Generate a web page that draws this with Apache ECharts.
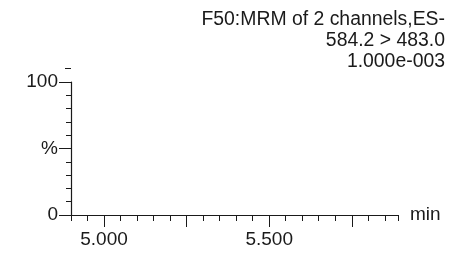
<!DOCTYPE html>
<html>
<head>
<meta charset="utf-8">
<script src="https://cdn.jsdelivr.net/npm/echarts@6/dist/echarts.min.js"></script>
<style>
  html, body { margin: 0; padding: 0; background: #fff; }
  #chart { width: 455px; height: 262px; }
</style>
</head>
<body>
<div id="chart"></div>
<script>
// header lines (right aligned, top right)
var titleLines = ['F50:MRM of 2 channels,ES-', '584.2 > 483.0', '1.000e-003']
// x axis (minutes)
var xMin = 4.9
var xMax = 5.89
var xMajorTicks = [5.0, 5.25, 5.5, 5.75]
var xLabelValues = [5.0, 5.5]
// y axis (%)
var yMajorTicks = [0, 50, 100]
var yLabels = {0: '0', 50: '%', 100: '100'}
var yExtraTick = [110]
// no trace in this window
var traceData = []

var font = 'Liberation Sans, Arial, sans-serif'
var ink = '#1a1a1a'

var chart = echarts.init(document.getElementById('chart'))
chart.setOption({
  animation: false,
  title: {
    text: titleLines.join('\n'),
    left: 440,
    top: 4,
    textAlign: 'right',
    textStyle: {fontFamily: font, fontSize: 19.4, fontWeight: 'normal', color: ink, lineHeight: 21}
  },
  grid: [
    {left: 71, right: 57, top: 82, bottom: 47},
    {left: 71, right: 57, top: 68.7, bottom: 47}
  ],
  xAxis: [{
    // minor ticks + line
    type: 'value', gridIndex: 0, min: xMin, max: xMax, interval: 0.05,
    axisLine: {show: true, lineStyle: {color: ink, width: 1.2}},
    axisTick: {show: true, length: 6, lineStyle: {color: ink}},
    axisLabel: {show: false},
    splitLine: {show: false}
  }, {
    // major ticks + labels + name
    type: 'value', gridIndex: 0, position: 'bottom', min: xMin, max: xMax,
    axisLine: {show: false},
    axisTick: {show: true, length: 12, customValues: xMajorTicks, lineStyle: {color: ink}},
    axisLabel: {
      show: true, customValues: xLabelValues, margin: 15,
      fontFamily: font, fontSize: 19, color: ink,
      formatter: function (v) { return v.toFixed(3) }
    },
    name: 'min', nameLocation: 'end', nameGap: 12,
    nameTextStyle: {fontFamily: font, fontSize: 19, color: ink, verticalAlign: 'middle'},
    splitLine: {show: false}
  }, {
    type: 'value', gridIndex: 1, min: xMin, max: xMax, show: false
  }],
  yAxis: [{
    type: 'value', gridIndex: 0, min: 0, max: 100, interval: 50,
    axisLine: {show: true, lineStyle: {color: ink, width: 1.2}},
    axisTick: {show: true, length: 12, lineStyle: {color: ink}},
    minorTick: {show: true, splitNumber: 5, length: 5, lineStyle: {color: ink}},
    axisLabel: {
      margin: 13, fontFamily: font, fontSize: 19, color: ink,
      formatter: function (v) { return yLabels[v] !== undefined ? yLabels[v] : '' }
    },
    splitLine: {show: false}
  }, {
    type: 'value', gridIndex: 1, min: 0, max: 110,
    axisLine: {show: false},
    axisTick: {show: true, length: 6, customValues: yExtraTick, lineStyle: {color: ink}},
    axisLabel: {show: false},
    splitLine: {show: false}
  }],
  series: [{
    type: 'line', xAxisIndex: 0, yAxisIndex: 0, data: traceData,
    showSymbol: false, lineStyle: {color: ink, width: 1}
  }]
})
</script>
</body>
</html>
